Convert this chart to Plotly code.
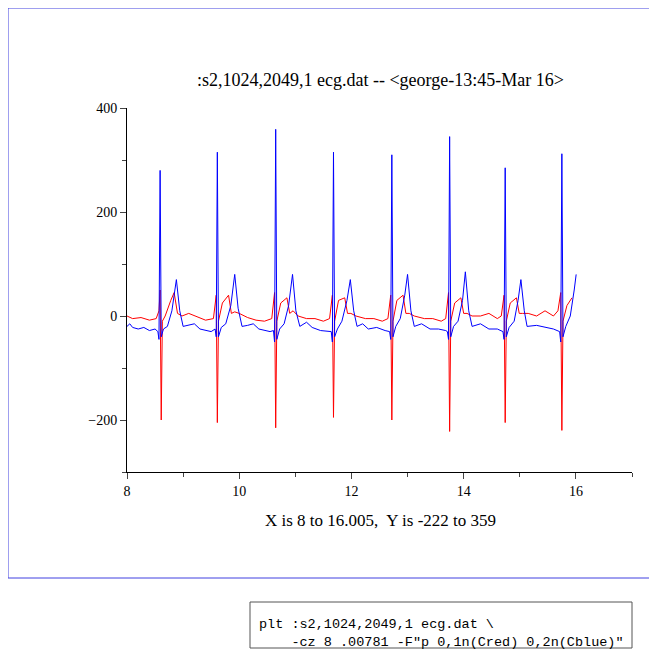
import plotly.graph_objects as go

# lead 2 (blue)
blue_x = [8.00, 8.05, 8.10, 8.20, 8.30, 8.40, 8.50, 8.55, 8.57, 8.59, 8.61, 8.65, 8.72, 8.80, 8.88, 8.94,
          9.00, 9.10, 9.20, 9.30, 9.40, 9.50, 9.57, 9.59, 9.61, 9.63, 9.68, 9.76, 9.85, 9.92, 9.98,
          10.05, 10.15, 10.25, 10.35, 10.45, 10.55, 10.61, 10.63, 10.65, 10.67, 10.72, 10.80, 10.88, 10.95, 11.01,
          11.08, 11.20, 11.30, 11.45, 11.60, 11.64, 11.66, 11.68, 11.70, 11.75, 11.83, 11.92, 11.98, 12.04,
          12.10, 12.20, 12.30, 12.45, 12.60, 12.68, 12.70, 12.72, 12.74, 12.79, 12.87, 12.95, 13.00, 13.06,
          13.12, 13.25, 13.40, 13.55, 13.68, 13.71, 13.73, 13.75, 13.77, 13.82, 13.90, 13.98, 14.03, 14.09,
          14.15, 14.30, 14.45, 14.60, 14.70, 14.72, 14.74, 14.76, 14.81, 14.90, 14.97, 15.02, 15.08,
          15.13, 15.30, 15.45, 15.60, 15.71, 15.73, 15.75, 15.77, 15.82, 15.90, 15.97, 16.005]
blue_y = [-20, -15, -22, -25, -22, -28, -25, -30, -45, 280, -40, -25, -20, 10, 70, 10,
          -20, -18, -15, -25, -28, -30, -25, -40, 315, -40, -22, -15, 20, 80, 15,
          -20, -18, -15, -25, -28, -30, -28, -50, 359, -45, -25, -15, 20, 80, 10,
          -20, -12, -22, -28, -30, -30, -50, 315, -40, -25, -10, 30, 70, 10,
          -20, -15, -25, -22, -28, -30, -45, 310, -40, -20, -5, 40, 80, 10,
          -20, -15, -25, -25, -28, -30, -45, 345, -40, -20, -10, 30, 85, 10,
          -20, -15, -25, -25, -30, -45, 285, -40, -22, -10, 30, 70, 10,
          -20, -18, -22, -25, -30, -50, 312, -40, -20, 0, 50, 80]

# lead 1 (red)
red_x = [8.00, 8.10, 8.25, 8.40, 8.52, 8.57, 8.59, 8.61, 8.63, 8.68, 8.78, 8.84, 8.90, 8.98, 9.10, 9.25, 9.40,
         9.54, 9.59, 9.61, 9.63, 9.65, 9.70, 9.81, 9.86, 9.92, 10.00, 10.15, 10.30, 10.45,
         10.58, 10.63, 10.65, 10.67, 10.69, 10.74, 10.85, 10.90, 10.96, 11.05, 11.20, 11.35, 11.50,
         11.61, 11.66, 11.68, 11.70, 11.72, 11.77, 11.88, 11.93, 11.99, 12.08, 12.25, 12.40, 12.55,
         12.65, 12.70, 12.72, 12.74, 12.76, 12.81, 12.92, 12.97, 13.03, 13.12, 13.30, 13.45, 13.60,
         13.68, 13.73, 13.75, 13.77, 13.79, 13.84, 13.95, 14.00, 14.06, 14.15, 14.30, 14.45, 14.60,
         14.67, 14.72, 14.74, 14.76, 14.78, 14.83, 14.94, 14.99, 15.05, 15.15, 15.30, 15.45, 15.60,
         15.68, 15.73, 15.75, 15.77, 15.79, 15.84, 15.93, 16.005]
red_y = [0, -5, -3, -8, -5, 10, 50, -200, -10, 0, 30, 45, 5, 0, 5, -2, -8,
         -5, 40, -205, -10, 0, 25, 40, 5, 8, 5, -3, -8, -10,
         -5, 45, -215, -10, 0, 25, 35, 5, 10, 0, -5, -5, -10,
         -5, 40, -195, -10, 0, 30, 35, 5, 5, 0, -5, -5, -10,
         -5, 40, -200, -10, 0, 30, 40, 5, 5, 0, -5, -5, -10,
         -5, 45, -222, -10, 0, 25, 35, 5, 5, 0, 0, 5, -5,
         0, 40, -205, -10, 0, 25, 35, 5, 5, 5, 0, 10, 0,
         10, 45, -220, -10, 0, 20, 35]

title = ":s2,1024,2049,1 ecg.dat -- <george-13:45-Mar 16>"
xlabel = "X is 8 to 16.005,  Y is -222 to 359"
cmd_lines = ["plt :s2,1024,2049,1 ecg.dat \\",
             "    -cz 8 .00781 -F\"p 0,1n(Cred) 0,2n(Cblue)\""]

fig = go.Figure()
fig.add_trace(go.Scatter(x=red_x, y=red_y, mode="lines", line=dict(color="red", width=1)))
fig.add_trace(go.Scatter(x=blue_x, y=blue_y, mode="lines", line=dict(color="blue", width=1)))

# page body adds an 8px offset, so work in reference pixels minus 8
OFF = 8
W, H = 657 - OFF, 667 - OFF
L, R, T, B = 127 - OFF, 25, 108 - OFF, 195
pw, ph = W - L - R, H - T - B
px = lambda v: (v - OFF - L) / pw
py = lambda v: (H - B - (v - OFF)) / ph

annotations = [
    dict(text=title, x=px(380), y=py(68), xref="paper", yref="paper", showarrow=False, font=dict(size=18)),
    dict(text=xlabel, x=px(380), y=py(532), xref="paper", yref="paper", showarrow=False, font=dict(size=17)),
]
for i, line in enumerate(cmd_lines):
    annotations.append(dict(text=line.replace(" ", "&nbsp;"), x=px(257), y=py(624 + 18 * i), xref="paper",
                            yref="paper", showarrow=False, xanchor="left", yanchor="middle",
                            font=dict(family="Liberation Mono", size=13.5)))

fig.update_layout(
    width=W, height=H, margin=dict(l=L, r=R, t=T, b=B),
    plot_bgcolor="white", paper_bgcolor="white", showlegend=False,
    font=dict(family="Liberation Serif", size=14, color="black"),
    xaxis=dict(range=[8, 17], tickvals=[8, 10, 12, 14, 16], showgrid=False, zeroline=False,
               showline=True, linecolor="black", ticks="outside", ticklen=6,
               minor=dict(tickvals=[9, 11, 13, 15, 17], ticks="outside", ticklen=4)),
    yaxis=dict(range=[-300, 400], tickvals=[-200, 0, 200, 400], showgrid=False, zeroline=False,
               showline=True, linecolor="black", ticks="outside", ticklen=6,
               minor=dict(tickvals=[-300, -100, 100, 300], ticks="outside", ticklen=4)),
    annotations=annotations,
    shapes=[
        dict(type="rect", xref="paper", yref="paper", x0=px(8), x1=px(655), y0=py(8), y1=py(578),
             line=dict(color="#4040e0", width=1)),
        dict(type="rect", xref="paper", yref="paper", x0=px(250), x1=px(632), y0=py(602), y1=py(648),
             line=dict(color="#555", width=1)),
    ],
)
fig.write_html("out.html")
